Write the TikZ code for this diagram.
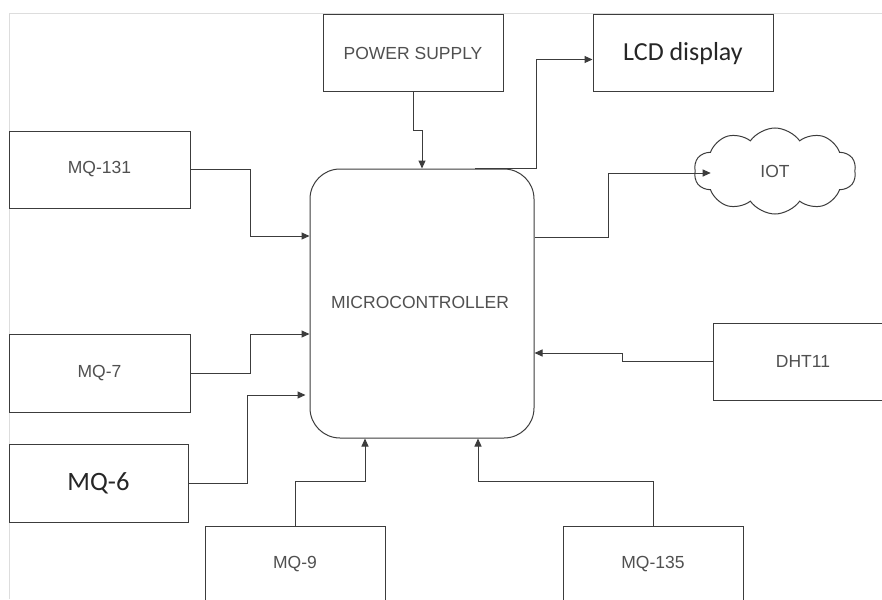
\documentclass[tikz,border=0pt]{standalone}
\usepackage{fontspec}
\setmainfont{Liberation Sans}
\newfontfamily\calibri{Carlito}
\usetikzlibrary{arrows.meta, shapes.symbols}
\definecolor{framegray}{RGB}{221, 221, 221}
\definecolor{inkgray}{RGB}{60, 60, 60}
\definecolor{labelgray}{RGB}{80, 80, 80}

\tikzset{
  blk/.style={draw=inkgray, line width=1pt, minimum width=180pt, minimum height=77pt,
    inner sep=0pt, text=labelgray, font=\fontsize{17.5}{20}\selectfont},
  link/.style={draw=inkgray, line width=1pt, ->}
}

\begin{document}
\begin{tikzpicture}[x=1pt, y=-1pt, >={Triangle[length=8pt, width=7pt]}]
  \clip (0, 0) rectangle (882, 599);
  \fill[white] (0, 0) rectangle (882, 599);

  % Frame
  \draw[framegray, line width=1pt] (9, 599) -- (9, 14) -- (882, 14);

  % Blocks
  \node[blk] (power) at (413, 53.5) {POWER SUPPLY};
  \node[blk, text=black!85, font=\calibri\fontsize{26}{29}\selectfont] (lcd) at (683, 53.5) {LCD display};
  \node[blk, minimum width=181pt] (mq131) at (99.5, 169.5) {MQ-131};
  \node[blk, minimum width=181pt, minimum height=78pt] (mq7) at (99.5, 373) {MQ-7};
  \node[blk, minimum width=179pt, minimum height=78pt, text=black!85,
    font=\calibri\fontsize{26.5}{29}\selectfont] (mq6) at (98.5, 483) {MQ-6};
  \node[blk] (mq9) at (295, 564.5) {MQ-9};
  \node[blk] (mq135) at (653, 564.5) {MQ-135};
  \node[blk] (dht11) at (803, 361.5) {DHT11};

  % Microcontroller
  \node[blk, rounded corners=30pt, minimum width=224pt, minimum height=269pt]
    (micro) at (422, 303.5) {};
  \node[text=labelgray, font=\fontsize{17.5}{20}\selectfont] (microtext) at (420, 302) {MICROCONTROLLER};

  % Cloud
  \node[cloud, draw=inkgray, line width=1pt, cloud puffs=10, cloud puff arc=110, aspect=1.9,
    minimum width=162pt, minimum height=86pt, inner sep=0pt, text=labelgray,
    font=\fontsize{17.5}{20}\selectfont] (iot) at (775, 171) {IOT};

  % Inputs
  \draw[link] (power.south) -- ++(0, 38) -| (micro.north);
  \draw[link] (mq131.east) -- ++(60, 0) |- ([yshift=67.5pt]micro.west);
  \draw[link] (mq7.east) -- ++(60, 0) |- ([yshift=-30.5pt]micro.west);
  \draw[link] (mq6.east) -- ++(59, 0) |- ([xshift=-4pt, yshift=-91.5pt]micro.west);
  \draw[link] (mq9.north) -- ++(0, -44) -| ([xshift=-57pt]micro.south);
  \draw[link] (mq135.north) -- ++(0, -44) -| ([xshift=56pt]micro.south);
  \draw[link] (dht11.west) -- ++(-90, 0) |- ([yshift=-49.5pt]micro.east);

  % Outputs
  \draw[link] ([xshift=53pt]micro.north) -- ++(61, 0) |- ([yshift=-6pt]lcd.west);
  \draw[link] ([yshift=66.5pt]micro.east) -- ++(74, 0) |- ([xshift=16pt, yshift=-2pt]iot.west);
\end{tikzpicture}
\end{document}
